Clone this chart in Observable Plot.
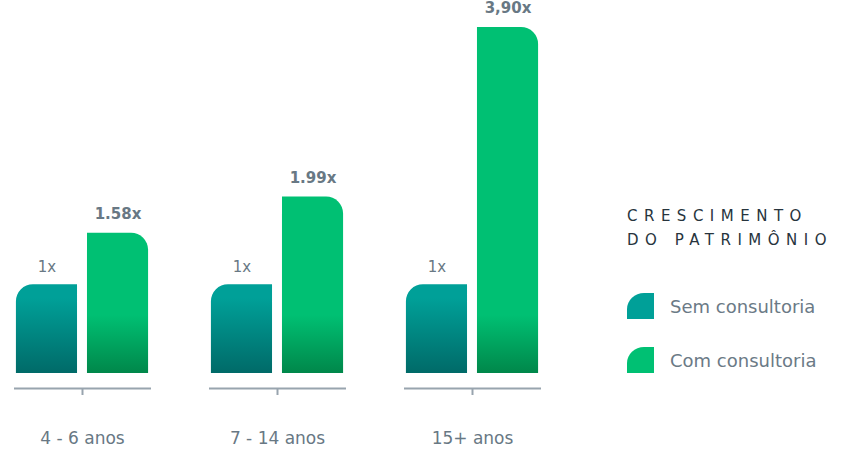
<!DOCTYPE html>
<html>
<head>
<meta charset="utf-8">
<script src="https://cdn.jsdelivr.net/npm/d3@7"></script>
<script src="https://cdn.jsdelivr.net/npm/@observablehq/plot@0.6"></script>
<style>
  body { margin: 0; background: #fff; }
  #wrap { position: relative; width: 846px; height: 460px; font-family: "DejaVu Sans", sans-serif; }
  #chart { position: absolute; left: 0; top: 0; }
  #legend { position: absolute; left: 627px; top: 204px; }
  .ltitle { font-size: 15px; letter-spacing: 6.5px; color: #27343D; line-height: 24px; white-space: nowrap; }
  .item { display: flex; align-items: center; height: 26px; }
  .item.first { margin-top: 41px; }
  .item.second { margin-top: 28px; }
  .sw { width: 27px; height: 26px; border-top-left-radius: 17px 16px; margin-right: 16px; flex: none; }
  .item span { font-size: 18px; color: #6B7A86; white-space: nowrap; }
</style>
</head>
<body>
<div id="wrap">
  <div id="chart"></div>
  <div id="legend"></div>
</div>
<script>
// ---- data ----
const groups = ["4 - 6 anos", "7 - 14 anos", "15+ anos"];
const series = ["Sem consultoria", "Com consultoria"];
const semValues = [1, 1, 1];
const comValues = [1.58, 1.99, 3.90];
const semLabels = ["1x", "1x", "1x"];
const comLabels = ["1.58x", "1.99x", "3,90x"];
const legendTitle = ["CRESCIMENTO", "DO PATRIMÔNIO"];

const seriesColors = ["#00A098", "#00C073"];

const rows = [];
groups.forEach((g, i) => {
  rows.push({group: g, series: series[0], value: semValues[i], label: semLabels[i]});
  rows.push({group: g, series: series[1], value: comValues[i], label: comLabels[i]});
});
const sem = rows.filter(d => d.series === series[0]);
const com = rows.filter(d => d.series === series[1]);

const textColor = "#687884";
const axisColor = "#98A4AE";

const chart = Plot.plot({
  width: 846,
  height: 460,
  marginLeft: 14.5,
  marginRight: 306.5,
  marginTop: 27,
  marginBottom: 72,
  style: {fontFamily: "DejaVu Sans, sans-serif", background: "#fff"},
  fx: {domain: groups, paddingInner: 0.3077, paddingOuter: 0, label: null, round: false},
  x: {domain: series, paddingInner: 0.14, paddingOuter: 0.02, axis: null, round: false},
  y: {domain: [0, 3.9], insetBottom: 15, axis: null},
  marks: [
    Plot.frame({anchor: "bottom", stroke: axisColor, strokeWidth: 2}),
    Plot.axisFx({anchor: "bottom", tickSize: 7, tickPadding: 36, stroke: axisColor, strokeWidth: 2, fill: textColor, fontSize: 17, label: null}),
    Plot.barY(sem, {fx: "group", x: "series", y: "value", fill: "url(#gTeal)", rx1y1: 17}),
    Plot.barY(com, {fx: "group", x: "series", y: "value", fill: "url(#gGreen)", rx2y1: 17}),
    Plot.text(sem, {fx: "group", x: "series", y: "value", text: "label", dy: -18, fontSize: 15, fill: textColor}),
    Plot.text(com, {fx: "group", x: "series", y: "value", text: "label", dy: -19, fontSize: 15, fontWeight: "bold", fill: textColor})
  ]
});

// gradients (anchored to the baseline, as in the reference)
const yScale = chart.scale("y");
const y0 = yScale.apply(0);
const svg = d3.select(chart);
const defs = svg.insert("defs", ":first-child");
function grad(id, yTop, c1, c2) {
  const g = defs.append("linearGradient").attr("id", id)
    .attr("gradientUnits", "userSpaceOnUse")
    .attr("x1", 0).attr("x2", 0).attr("y1", yTop).attr("y2", y0);
  g.append("stop").attr("offset", 0).attr("stop-color", c1);
  g.append("stop").attr("offset", 1).attr("stop-color", c2);
}
grad("gTeal", y0 - 75, seriesColors[0], "#006A68");
grad("gGreen", y0 - 58, seriesColors[1], "#00874A");

document.getElementById("chart").appendChild(chart);

// legend
const legend = d3.select("#legend");
legendTitle.forEach(t => legend.append("div").attr("class", "ltitle").text(t));
series.forEach((s, i) => {
  const it = legend.append("div").attr("class", "item " + (i === 0 ? "first" : "second"));
  it.append("div").attr("class", "sw").style("background", seriesColors[i]);
  it.append("span").text(s);
});
</script>
</body>
</html>
